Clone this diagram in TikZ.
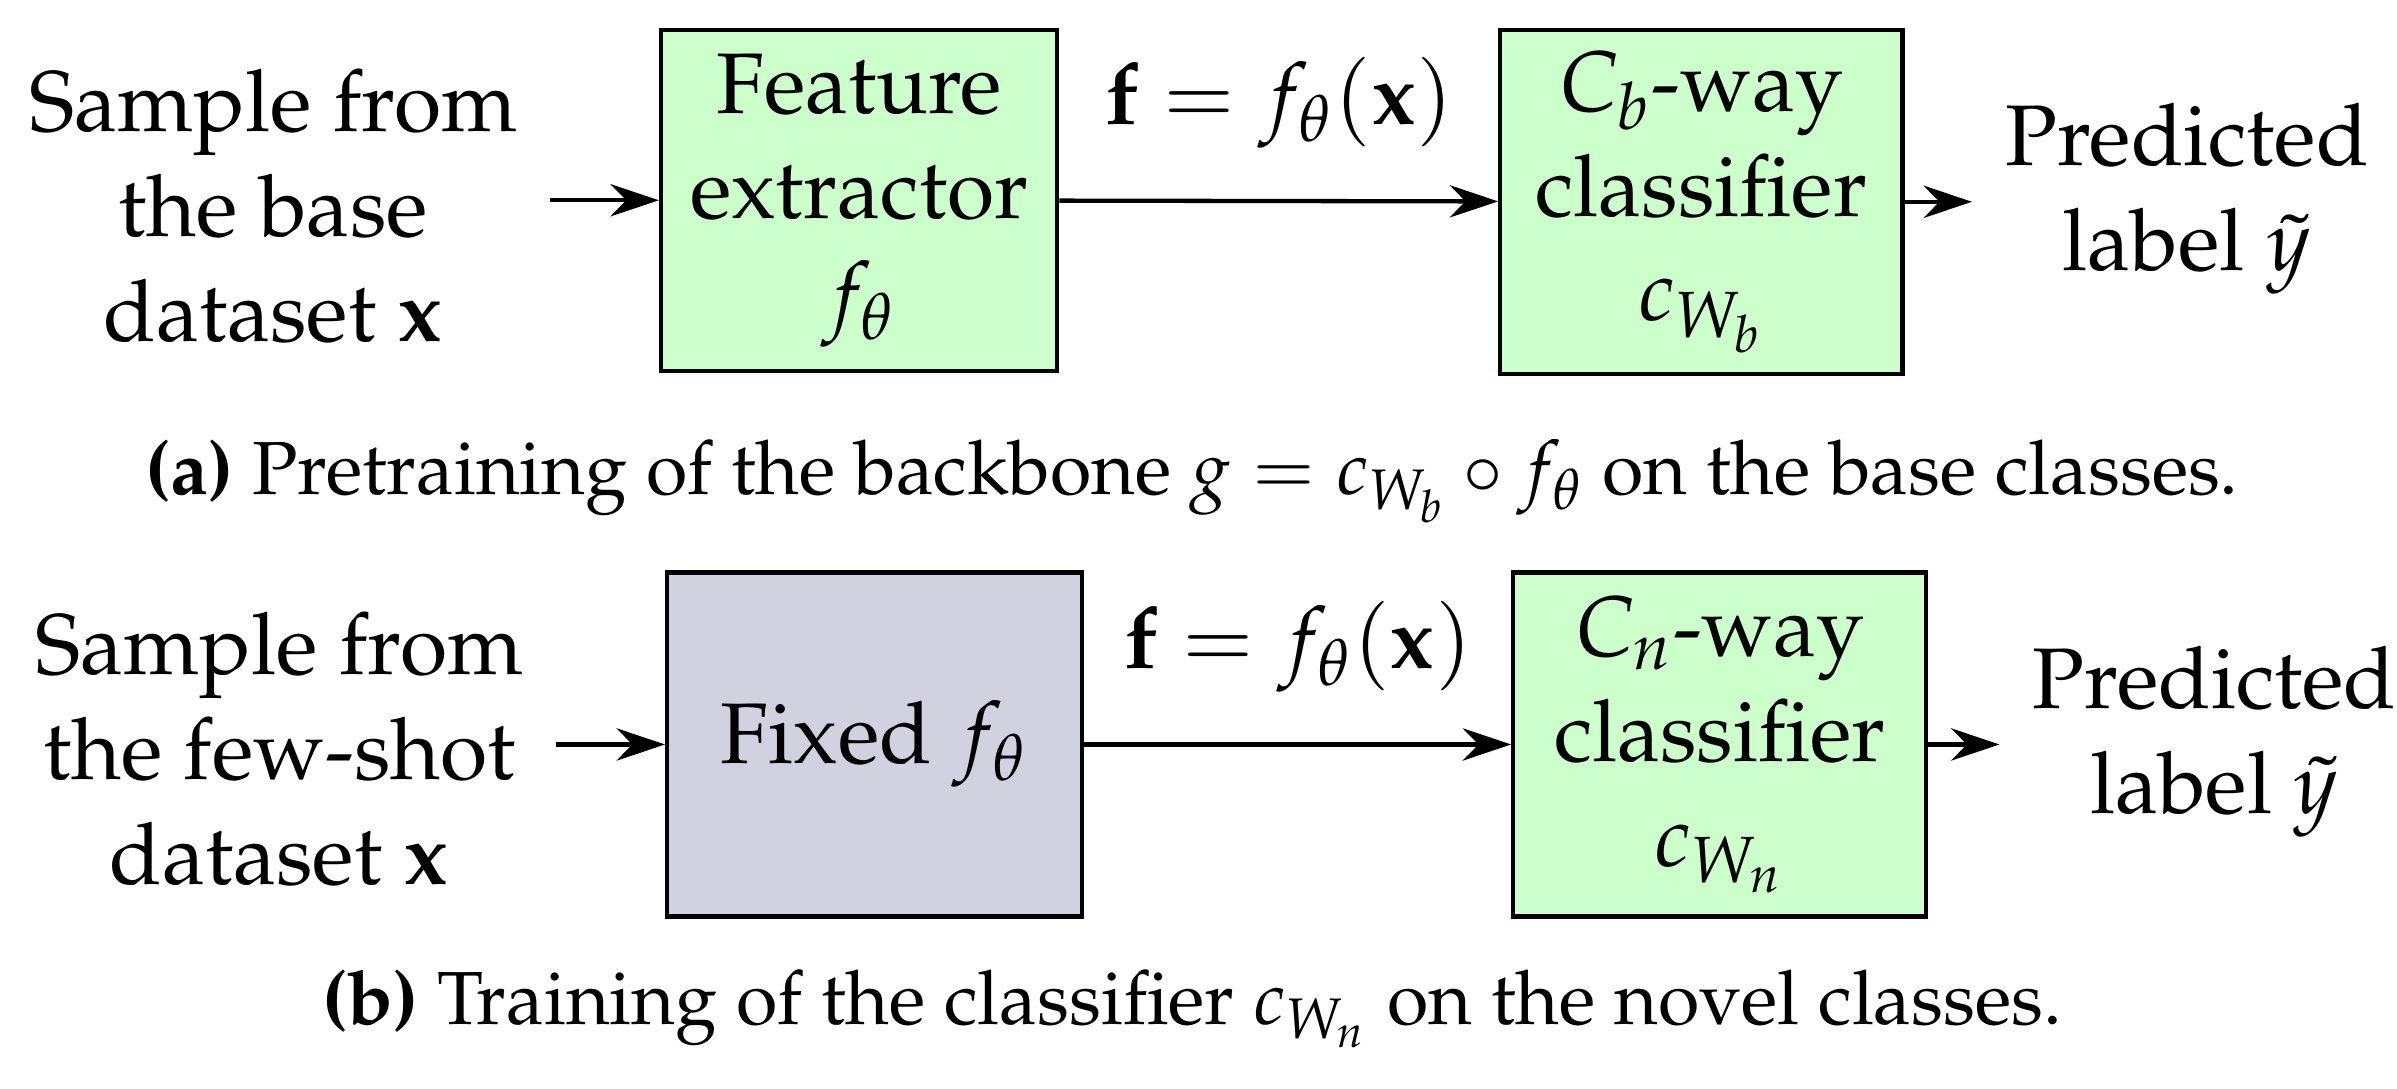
\documentclass[tikz,border=0pt]{standalone}
\usepackage[T1]{fontenc}
\usepackage{mathpazo}
\usetikzlibrary{positioning}
\usetikzlibrary{arrows.meta}
\tikzset{
  block/.style={draw, thick, align=center, inner sep=2pt},
  txt/.style={align=center, inner ysep=0pt, inner xsep=6pt},
  capt/.style={font=\fontsize{14}{17}\selectfont},
  link/.style={thick, -{Stealth[length=9pt,width=6pt]}}
}
\begin{document}
\begin{tikzpicture}[x=0.01cm,y=-0.01cm, font=\fontsize{16}{19.5}\selectfont]
                \useasboundingbox (0,0) rectangle (1568,712);
                % Pretraining row
                \node[block, fill=green!20, minimum width=2.59cm, minimum height=2.23cm] (fe) at (562,131) {Feature\\extractor\\$f_\theta$};
                \node[block, fill=green!20, minimum width=2.63cm, minimum height=2.25cm] (cb) at (1113,132) {$C_b$-way\\classifier\\$c_{W_b}$};
                \node[txt, anchor=east] (in1) at (360,135) {Sample from\\the base\\dataset $\mathbf{x}$};
                \node[txt, anchor=west] (out1) at (1290,130) {Predicted\\label $\tilde{y}$};
                \draw[link] (in1.east |- fe.west) -- (fe);
                \draw[link] (fe) -- node[above=6pt] (f1) {$\mathbf{f}=f_\theta(\mathbf{x})$} (cb);
                \draw[link] (cb.east) -- (out1.west |- cb.east);
                \node[capt] (capa) at (780,315) {\textbf{(a)} Pretraining of the backbone $g=c_{W_b}\circ f_\theta$ on the base classes.};
    
                % Few-shot row
                \node[block, fill=blue!20!gray!30, minimum width=2.71cm, minimum height=2.25cm] (fx) at (572,487) {Fixed $f_\theta$};
                \node[block, fill=green!20, minimum width=2.70cm, minimum height=2.25cm] (cn) at (1125,487) {$C_n$-way\\classifier\\$c_{W_n}$};
                \node[txt, anchor=east] (in2) at (364,490) {Sample from\\the few-shot\\dataset $\mathbf{x}$};
                \node[txt, anchor=west] (out2) at (1308,485) {Predicted\\label $\tilde{y}$};
                \draw[link] (in2.east |- fx.west) -- (fx);
                \draw[link] (fx) -- node[above=6pt] (f2) {$\mathbf{f}=f_\theta(\mathbf{x})$} (cn);
                \draw[link] (cn.east) -- (out2.west |- cn.east);
                \node[capt] (capb) at (780,660) {\textbf{(b)} Training of the classifier $c_{W_n}$ on the novel classes.};
\end{tikzpicture}
\end{document}
